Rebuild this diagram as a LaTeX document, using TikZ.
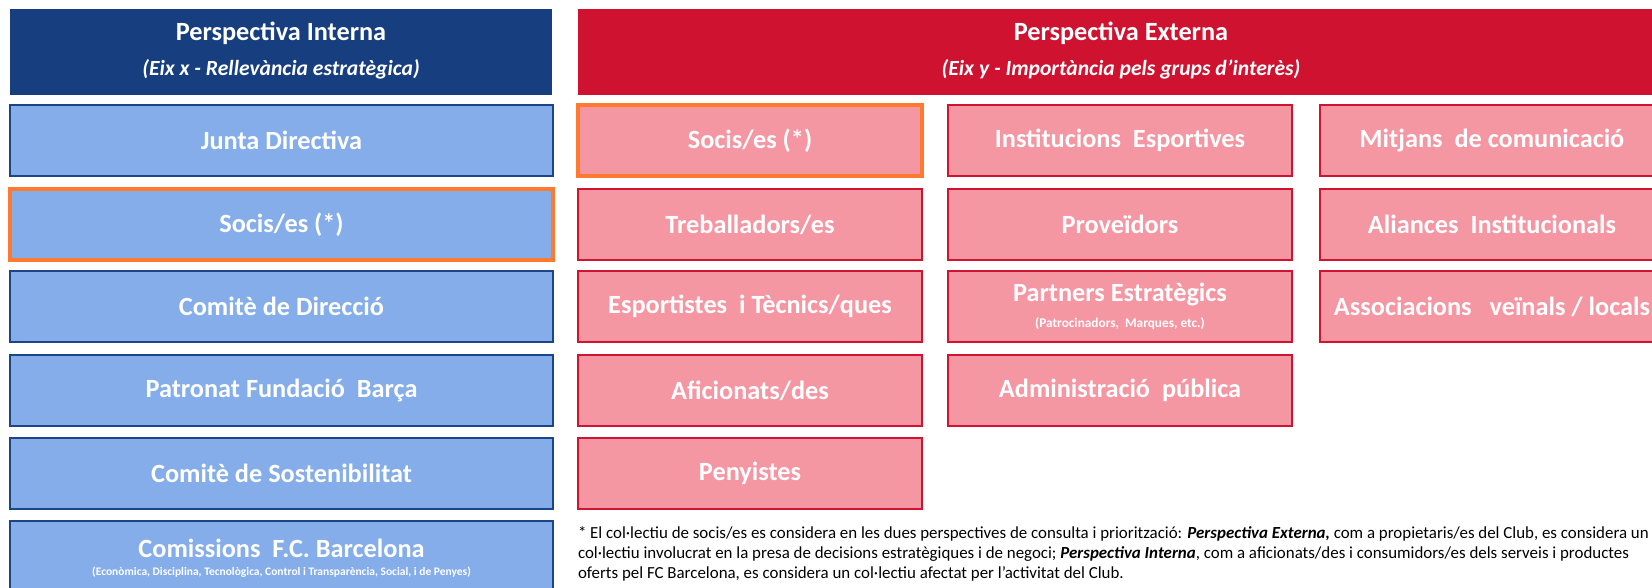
\documentclass[tikz,border=0pt]{standalone}
\usepackage{fontspec}
\setmainfont{Carlito}
\usepackage{graphicx}
\definecolor{hdrblue}{HTML}{173F80}
\definecolor{boxblue}{HTML}{84ADE9}
\definecolor{edgeblue}{HTML}{1C4587}
\definecolor{hdrred}{HTML}{CE1230}
\definecolor{boxpink}{HTML}{F596A3}
\definecolor{edgered}{HTML}{D0142F}
\definecolor{hilite}{HTML}{FF7A2E}
\begin{document}
\begin{tikzpicture}[x=1pt,y=-1pt,
  every node/.style={inner sep=0pt, outer sep=0pt},
  hdrbox/.style={anchor=north west, minimum height=86pt},
  lab/.style={text=white, font=\fontsize{26.3}{30}\selectfont\bfseries},
  sublab/.style={text=white, font=\fontsize{21.6}{25}\selectfont\bfseries\itshape},
  bluebox/.style={anchor=north west, fill=boxblue, draw=edgeblue, line width=2pt, minimum width=543pt, minimum height=71pt, lab},
  pinkbox/.style={anchor=north west, fill=boxpink, draw=edgered, line width=2.5pt, minimum width=344pt, minimum height=71pt, lab},
  hot/.style={draw=hilite, line width=4pt},
  small/.style={text=white, font=\fontsize{13.3}{15}\selectfont\bfseries},
  note/.style={anchor=base west, font=\fontsize{16.9}{19}\selectfont}
]
\useasboundingbox (0,0) rectangle (1652,588);
\clip (0,0) rectangle (1652,588);
% headers
\node[hdrbox, fill=hdrblue, minimum width=542pt] (hi) at (10,9) {};
\node[lab] (hit) at (281,33) {Perspectiva Interna};
\node[sublab] (his) at (281,69) {(Eix x - Rellevància estratègica)};
\node[hdrbox, fill=hdrred, minimum width=1086pt] (he) at (578,9) {};
\node[lab] (het) at (1121,33) {Perspectiva Externa};
\node[sublab] (hes) at (1121,69) {(Eix y - Importància pels grups d’interès)};
% left column
\node[bluebox] (l1) at (10,105) {Junta Directiva};
\node[bluebox, hot] (l2) at (10,189) {Socis/es (*)};
\node[bluebox] (l3) at (10,271) {Comitè de Direcció};
\node[bluebox] (l4) at (10,355) {Patronat Fundació\ \ Barça};
\node[bluebox] (l5) at (10,438) {Comitè de Sostenibilitat};
\node[bluebox] (l6) at (10,521) {};
\node[lab] (l6t) at (281.5,548) {Comissions\ \ F.C. Barcelona};
\node[small, font=\fontsize{11.5}{13}\selectfont\bfseries] (l6s) at (281.5,572) {(Econòmica, Disciplina, Tecnològica, Control i Transparència, Social, i de Penyes)};
% column 1
\node[pinkbox, hot] (a1) at (578,105) {Socis/es (*)};
\node[pinkbox] (a2) at (578,189) {Treballadors/es};
\node[pinkbox] (a3) at (578,271) {Esportistes\ \ i Tècnics/ques};
\node[pinkbox] (a4) at (578,355) {Aficionats/des};
\node[pinkbox] (a5) at (578,438) {Penyistes};
% column 2
\node[pinkbox] (b1) at (948,105) {Institucions\ \ Esportives};
\node[pinkbox] (b2) at (948,189) {Proveïdors};
\node[pinkbox] (b3) at (948,271) {};
\node[lab] (b3t) at (1120,295) {Partners Estratègics};
\node[small] (b3s) at (1120,324) {(Patrocinadors,\ \ Marques, etc.)};
\node[pinkbox] (b4) at (948,355) {Administració\ \ pública};
% column 3
\node[pinkbox] (c1) at (1320,105) {Mitjans\ \ de comunicació};
\node[pinkbox] (c2) at (1320,189) {Aliances\ \ Institucionals};
\node[pinkbox] (c3) at (1320,271) {Associacions\ \ \ veïnals / locals};
% footnote
\node[note] (n1) at (578,538) {* El col·lectiu de socis/es es considera en les dues perspectives de consulta i priorització: \textbf{\textit{Perspectiva Externa,}} com a propietaris/es del Club, es considera un};
\node[note] (n2) at (578,558) {col·lectiu involucrat en la presa de decisions estratègiques i de negoci; \textbf{\textit{Perspectiva Interna}}, com a aficionats/des i consumidors/es dels serveis i productes};
\node[note] (n3) at (578,578) {oferts pel FC Barcelona, es considera un col·lectiu afectat per l’activitat del Club.};
\end{tikzpicture}
\end{document}
